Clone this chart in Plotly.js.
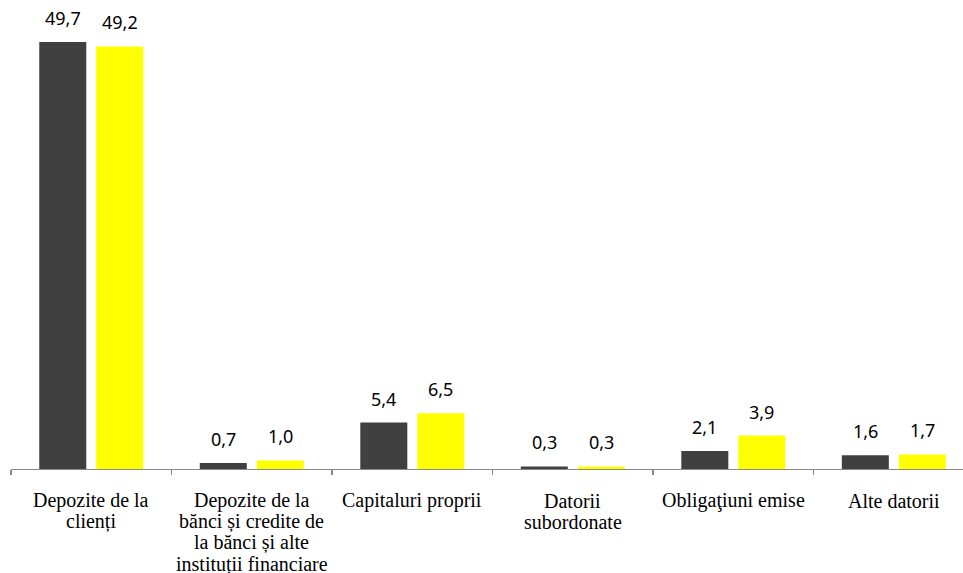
<!DOCTYPE html>
<html>
<head>
<meta charset="utf-8">
<script src="https://cdn.plot.ly/plotly-3.0.1.min.js"></script>
<style>html,body{margin:0;padding:0;background:#fff;}#chart{width:963px;height:573px;}</style>
</head>
<body>
<div id="chart"></div>
<script>
var categories = ["Depozite de la clienți", "Depozite de la bănci și credite de la bănci și alte instituții financiare", "Capitaluri proprii", "Datorii subordonate", "Obligaţiuni emise", "Alte datorii"];
var tickLabels = [["Depozite de la", "clienți"], ["Depozite de la", "bănci și credite de", "la bănci și alte", "instituții financiare"], ["Capitaluri proprii"], ["Datorii", "subordonate"], ["Obligaţiuni emise"], ["Alte datorii"]];
var seriesA = [49.7, 0.7, 5.4, 0.3, 2.1, 1.6];
var seriesB = [49.2, 1.0, 6.5, 0.3, 3.9, 1.7];

function fmt(v){ return v.toFixed(1).replace('.', ','); }

var traces = [
  {type:'bar', x:categories, y:seriesA, marker:{color:'#404040'}, hoverinfo:'none'},
  {type:'bar', x:categories, y:seriesB, marker:{color:'#FFFF00'}, hoverinfo:'none'}
];

var annotations = [];
[[seriesA,-28.5],[seriesB,28.5]].forEach(function(p){
  p[0].forEach(function(v,i){
    annotations.push({x:categories[i], y:v, xref:'x', yref:'y', text:fmt(v), showarrow:false,
      xshift:p[1], yshift:10, yanchor:'bottom', xanchor:'center',
      font:{family:'Noto Sans', size:18, color:'#000'}});
  });
});

var serifStack = '"Liberation Serif", Times, "Times New Roman", serif';

// category labels, one annotation per text line (tight line spacing as in the reference)
tickLabels.forEach(function(lines, i){
  lines.forEach(function(line, k){
    annotations.push({x:categories[i], y:0, xref:'x', yref:'paper', text:line, showarrow:false,
      yanchor:'middle', xanchor:'center', yshift:-(31.5 + 21.2*k),
      font:{family:serifStack, size:20, color:'#000'}});
  });
});

var layout = {
  width:963, height:573,
  margin:{l:11, r:0, t:0, b:103.5},
  paper_bgcolor:'#fff', plot_bgcolor:'#fff',
  font:{family:serifStack, size:20, color:'#000'},
  showlegend:false,
  barmode:'group', bargap:0.29, bargroupgap:0.175,
  xaxis:{type:'category', range:[-0.5, 5.431], showticklabels:false,
    showline:true, linecolor:'#888', linewidth:1.3, ticks:'outside', tickson:'boundaries',
    ticklen:5, tickcolor:'#888', tickwidth:1.3, showgrid:false, zeroline:false},
  yaxis:{range:[0, 54.6], visible:false, showgrid:false, zeroline:false},
  annotations:annotations
};

Plotly.newPlot('chart', traces, layout, {displayModeBar:false, staticPlot:true});
</script>
</body>
</html>
